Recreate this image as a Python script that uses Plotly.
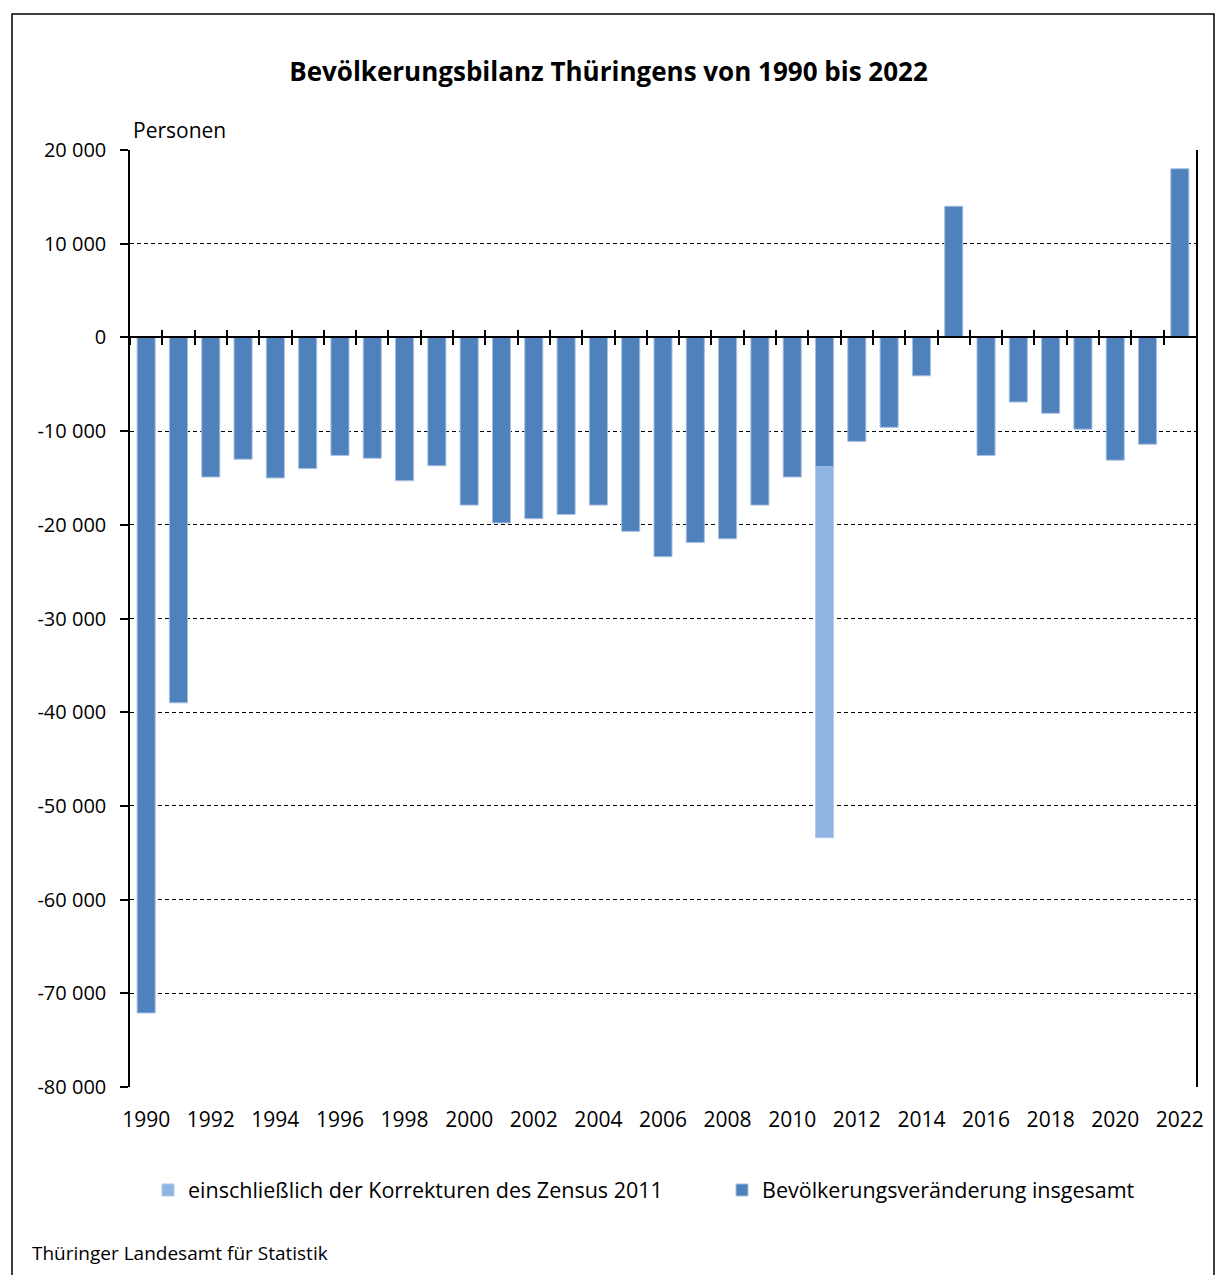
import plotly.graph_objects as go

years = list(range(1990, 2023))
total_change = [-72100, -39000, -14900, -13000, -15000, -14000, -12600, -12900, -15300, -13700,
                -17900, -19800, -19350, -18900, -17900, -20700, -23400, -21900, -21500, -17900,
                -14900, -13800, -11100, -9600, -4100, 14000, -12600, -6900, -8100, -9800,
                -13100, -11400, 18000]
census_years = [2011]
census_incl = [-53400]

ytick_vals = [20000, 10000, 0, -10000, -20000, -30000, -40000, -50000, -60000, -70000, -80000]
ytick_text = ["20 000", "10 000", "0", "-10 000", "-20 000", "-30 000", "-40 000",
              "-50 000", "-60 000", "-70 000", "-80 000"]
xtick_vals = years[::2]
xtick_text = [str(y) for y in xtick_vals]
boundaries = [y - 0.5 for y in years]

FONT = "Open Sans"
dark = "#4F81BD"
light = "#8EB4E3"

fig = go.Figure()
fig.add_trace(go.Bar(x=census_years, y=census_incl, name="einschließlich der Korrekturen des Zensus 2011",
                     marker=dict(color=light, line=dict(color="#B4CCEA", width=1)), legend="legend"))
fig.add_trace(go.Bar(x=years, y=total_change, name="Bevölkerungsveränderung insgesamt",
                     marker=dict(color=dark, line=dict(color="#A9C1E0", width=1)), legend="legend2"))

W, H = 1217, 1275
L, R, T, B = 130, 21, 150, 188
pw, ph = W - L - R, H - T - B

def px(x):
    return (x - L) / pw

def py(y):
    return (H - B - y) / ph

leg_common = dict(orientation="h", xanchor="left", yanchor="middle", y=py(1190),
                  font=dict(family=FONT, size=21.5), bgcolor="rgba(0,0,0,0)", borderwidth=0)

fig.update_layout(
    width=W, height=H,
    margin=dict(l=L, r=R, t=T, b=B),
    paper_bgcolor="white", plot_bgcolor="white",
    barmode="overlay", bargap=0.44,
    font=dict(family=FONT, size=20, color="black"),
    title=dict(text="<b>Bevölkerungsbilanz Thüringens von 1990 bis 2022</b>",
               x=0.5, xref="container", xanchor="center",
               y=1 - 72 / H, yref="container", yanchor="middle",
               font=dict(family=FONT, size=26, color="black")),
    showlegend=True,
    legend=dict(x=px(148), **leg_common),
    legend2=dict(x=px(722), **leg_common),
    xaxis=dict(range=[1989.5, 2022.5], tickvals=xtick_vals, ticktext=xtick_text,
               ticks="", showgrid=False, zeroline=False, showline=False,
               ticklabelstandoff=18, tickfont=dict(size=21)),
    xaxis2=dict(range=[1989.5, 2022.5], overlaying="x", anchor="free", position=0.8,
                tickvals=boundaries, ticks="outside", ticklen=7, tickcolor="black", tickwidth=1.5,
                showticklabels=False, showgrid=False, zeroline=False, showline=True,
                linecolor="black", linewidth=1.5),
    xaxis3=dict(range=[1989.5, 2022.5], overlaying="x", anchor="free", position=0.8,
                tickvals=boundaries, ticks="inside", ticklen=7, tickcolor="black", tickwidth=1.5,
                showticklabels=False, showgrid=False, zeroline=False, showline=False),
    yaxis=dict(range=[-80000, 20000], tickvals=ytick_vals, ticktext=ytick_text,
               ticks="outside", ticklen=8, tickcolor="black", tickwidth=1.5,
               showgrid=True, gridcolor="black", gridwidth=1, griddash="4px,3px",
               zeroline=False, showline=True, linecolor="black", linewidth=1.5, mirror=True,
               ticklabelstandoff=10, tickfont=dict(size=20)),
)

# invisible traces to activate overlay axes
fig.add_trace(go.Scatter(x=[years[0]], y=[0], xaxis="x2", mode="markers",
                         marker=dict(opacity=0), showlegend=False, hoverinfo="skip"))
fig.add_trace(go.Scatter(x=[years[0]], y=[0], xaxis="x3", mode="markers",
                         marker=dict(opacity=0), showlegend=False, hoverinfo="skip"))

fig.add_annotation(text="Personen", xref="paper", yref="paper", x=px(131), y=py(130),
                   xanchor="left", yanchor="middle", showarrow=False,
                   font=dict(family=FONT, size=21))
fig.add_annotation(text="Thüringer Landesamt für Statistik", xref="paper", yref="paper",
                   x=px(30), y=py(1253), xanchor="left", yanchor="middle", showarrow=False,
                   font=dict(family=FONT, size=19))

fig.add_shape(type="rect", xref="paper", yref="paper",
              x0=px(12), x1=px(1214), y0=py(1300), y1=py(14),
              line=dict(color="black", width=1.5), fillcolor="rgba(0,0,0,0)", layer="above")

fig.write_html("out.html", config={"displayModeBar": False},
               post_script="document.body.style.margin='0';")
